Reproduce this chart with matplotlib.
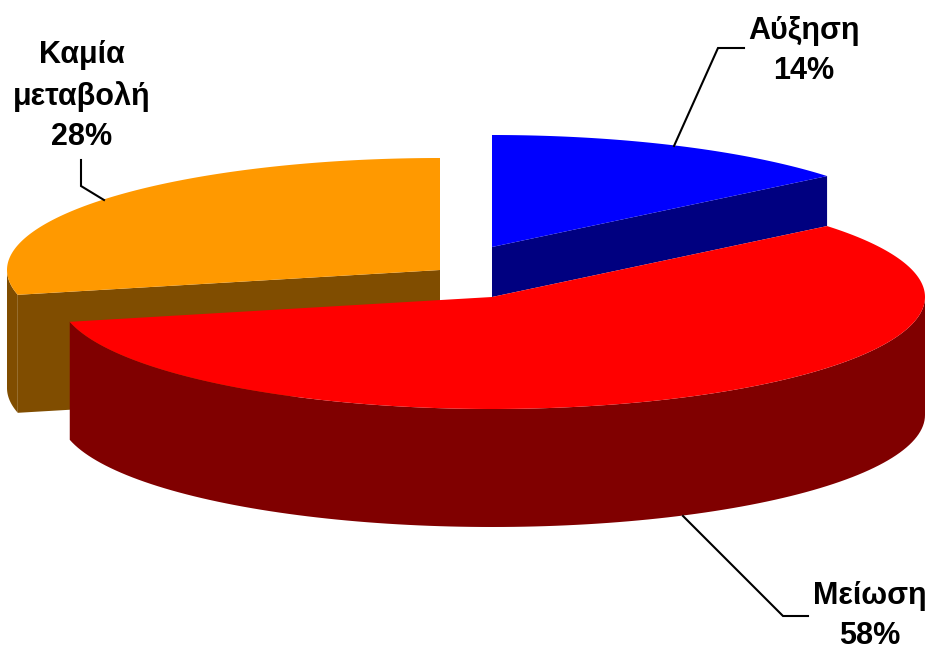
import numpy as np
import matplotlib
matplotlib.use("Agg")
import matplotlib.pyplot as plt

# slices clockwise from 12 o'clock
names = ["Αύξηση", "Μείωση", "Καμία\nμεταβολή"]
shares = [14, 58, 28]
top_colors = ["#0000FF", "#FF0000", "#FF9900"]
side_colors = ["#000080", "#800000", "#804D00"]

RX, RY = 433, 112
centers = [(492, 247), (492, 297), (440, 270)]
depths = [50, 118, 118]
label_pos = [(804, 51), (870, 616), (82, 96)]
leaders = [
    [(674, 146), (718, 48), (744, 48)],
    [(683, 516), (783, 616), (808, 616)],
    [(81, 160), (81, 186), (104, 200)],
]
# the 3d view skews the slice edges by a little, degrees per boundary
edge_skew = [0, 0.3, -2.0, 0]

plt.rcParams["font.family"] = ["Liberation Sans", "DejaVu Sans"]


def rim(cx, cy, t):
    return cx + RX * np.sin(t), cy - RY * np.cos(t)


def draw_slice(ax, center, depth, a0, a1, top_color, side_color):
    cx, cy = center
    # cut face on the closing radius of the slice
    if a0 < np.pi / 2 and a1 < np.pi / 2:
        ex, ey = rim(cx, cy, a1)
        ax.fill([cx, ex, ex, cx], [cy, ey, ey + depth, cy + depth], color=side_color, lw=0)
    if a1 > 1.5 * np.pi - 0.5 and a0 > np.pi:
        ex, ey = rim(cx, cy, a0)
        ax.fill([cx, ex, ex, cx], [cy, ey, ey + depth, cy + depth], color=side_color, lw=0)
    # outer wall, only the front half of the ellipse shows
    lo, hi = max(a0, np.pi / 2), min(a1, 1.5 * np.pi)
    if hi > lo:
        t = np.linspace(lo, hi, 120)
        x, y = rim(cx, cy, t)
        ax.fill(np.r_[x, x[::-1]], np.r_[y, y[::-1] + depth], color=side_color, lw=0)
    t = np.linspace(a0, a1, 240)
    x, y = rim(cx, cy, t)
    ax.fill(np.r_[cx, x], np.r_[cy, y], color=top_color, lw=0)


fig = plt.figure(figsize=(9.32, 6.49), dpi=100)
ax = fig.add_axes([0, 0, 1, 1])
ax.set_xlim(0, 932)
ax.set_ylim(649, 0)
ax.axis("off")

edges = np.r_[0, np.cumsum(shares)] / sum(shares) * 2 * np.pi + np.radians(edge_skew)
for i in [0, 2, 1]:
    draw_slice(ax, centers[i], depths[i], edges[i], edges[i + 1], top_colors[i], side_colors[i])

for line in leaders:
    xs, ys = zip(*line)
    ax.plot(xs, ys, color="black", lw=1.5, solid_joinstyle="miter")

for name, share, (x, y) in zip(names, shares, label_pos):
    ax.text(x, y, f"{name}\n{share}%", ha="center", va="center", fontsize=22,
            fontweight="bold", color="black", linespacing=1.43)

fig.savefig("out.png", dpi=100)
plt.close(fig)
